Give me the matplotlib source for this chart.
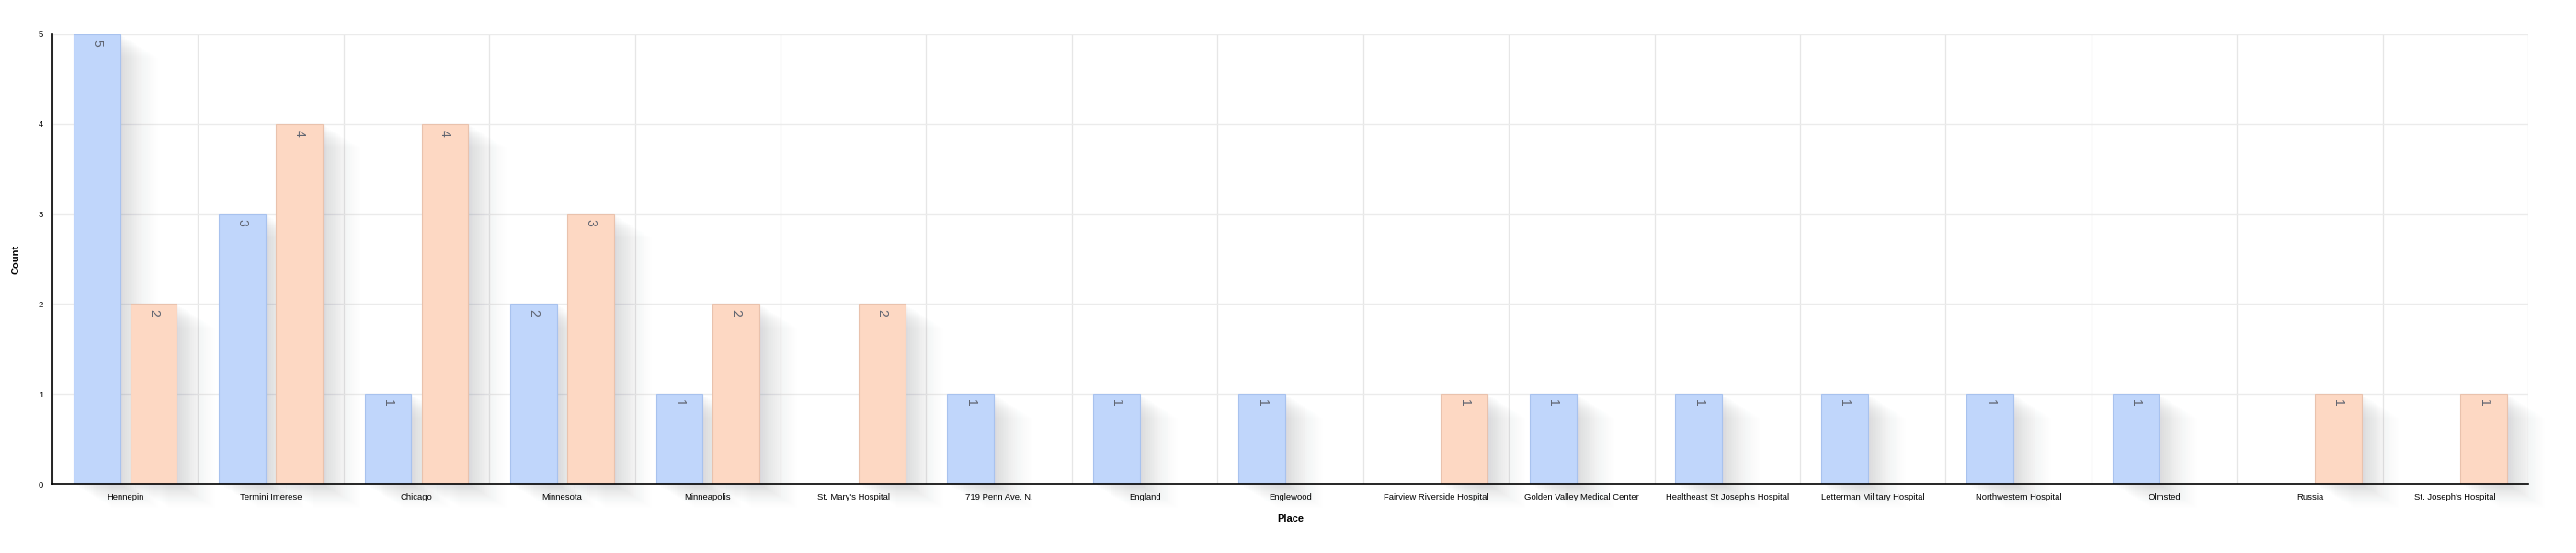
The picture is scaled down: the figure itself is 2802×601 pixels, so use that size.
import matplotlib.pyplot as plt
import matplotlib.transforms as mtransforms
from matplotlib.patches import Rectangle
import numpy as np

plt.rcParams["font.family"] = ["Liberation Sans", "DejaVu Sans"]

places = ["Hennepin", "Termini Imerese", "Chicago", "Minnesota", "Minneapolis",
          "St. Mary's Hospital", "719 Penn Ave. N.", "England", "Englewood",
          "Fairview Riverside Hospital", "Golden Valley Medical Center",
          "Healtheast St Joseph's Hospital", "Letterman Military Hospital",
          "Northwestern Hospital", "Olmsted", "Russia", "St. Joseph's Hospital"]
birth_counts = [5, 3, 1, 2, 1, 0, 1, 1, 1, 0, 1, 1, 1, 1, 1, 0, 0]
death_counts = [2, 4, 4, 3, 2, 2, 0, 0, 0, 1, 0, 0, 0, 0, 0, 1, 1]

BLUE = "#c0d6fb"
BLUE_EDGE = "#a8c2ee"
ORANGE = "#fdd8c3"
ORANGE_EDGE = "#e9c2ad"

W, H, DPI = 2802, 601, 100
fig = plt.figure(figsize=(W / DPI, H / DPI), dpi=DPI)
ax = fig.add_axes([57 / W, 1 - 526 / H, (2750 - 57) / W, (526 - 37) / H])

n = len(places)
x = np.arange(n)
bw = 0.32
off = 0.195


def draw_bar(xc, val, face, edge):
    if val <= 0:
        return
    # soft diagonal shadow: stack of shifted, fading copies
    steps = 24
    for k in range(1, steps + 1):
        fade = 1 - (k - 1) / steps
        tr = ax.transData + mtransforms.ScaledTranslation(
            45 * k / steps / DPI, -28 * k / steps / DPI, fig.dpi_scale_trans)
        ax.add_patch(Rectangle((xc - bw / 2, 0), bw, val, transform=tr,
                               facecolor="#7d8596", edgecolor="none",
                               alpha=0.02 * fade, zorder=1, clip_on=False))
    ax.bar(xc, val, width=bw, color=face, edgecolor=edge, linewidth=0.8, zorder=3)
    ax.text(xc, val - 0.06, str(val), rotation=-90, ha="center", va="top",
            fontsize=10, color="#5f6470", zorder=4)


for i in range(n):
    draw_bar(x[i] - off, birth_counts[i], BLUE, BLUE_EDGE)
    draw_bar(x[i] + off, death_counts[i], ORANGE, ORANGE_EDGE)

ax.set_xlim(-0.5, n - 0.5)
ax.set_ylim(0, 5)
ax.set_xticks(x)
ax.set_xticklabels(places, fontsize=6.8)
ax.set_yticks(range(6))
ax.set_yticklabels([str(v) for v in range(6)], fontsize=6.8)
ax.tick_params(axis="both", length=0, pad=7)

for b in np.arange(-0.5, n, 1.0):
    ax.axvline(b, color="#e6e6e6", linewidth=0.9, zorder=0)
for v in range(1, 6):
    ax.axhline(v, color="#ebebeb", linewidth=1.0, zorder=0)

for s in ["top", "right"]:
    ax.spines[s].set_visible(False)
for s in ["left", "bottom"]:
    ax.spines[s].set_color("black")
    ax.spines[s].set_linewidth(1.2)
    ax.spines[s].set_zorder(5)

ax.set_xlabel("Place", fontsize=8, fontweight="bold", labelpad=10)
ax.set_ylabel("Count", fontsize=8, fontweight="bold", labelpad=14)

fig.savefig("out.png", dpi=DPI)
